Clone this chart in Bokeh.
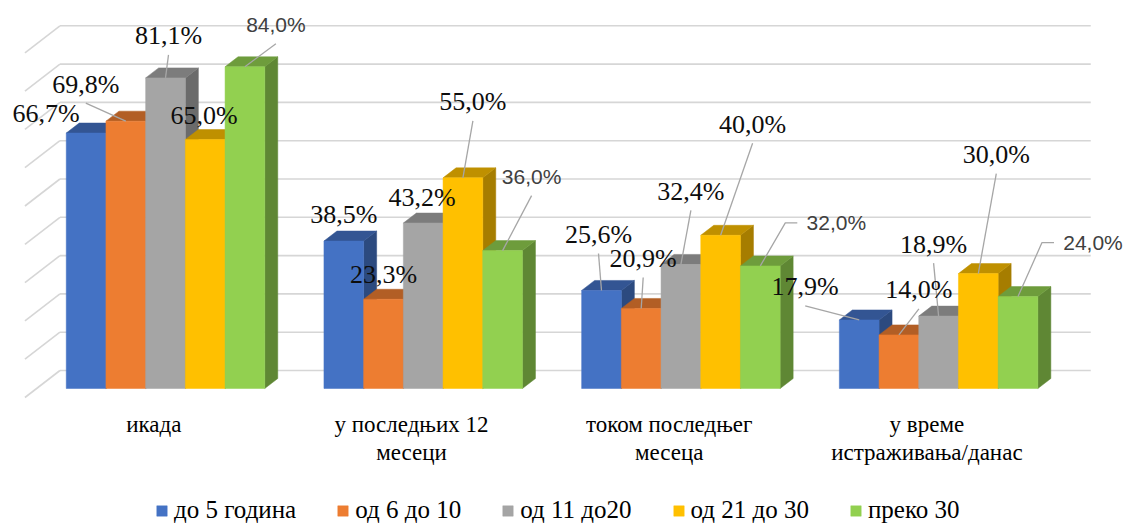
import numpy as np
from bokeh.plotting import figure
from bokeh.models import ColumnDataSource, Range1d, Legend, LegendItem
from bokeh.embed import file_html
from bokeh.resources import INLINE

# ---------------- data ----------------
categories = ["икада", "у последњих 12\nмесеци", "током последњег\nмесеца",
              "у време\nистраживања/данас"]
series_names = ["до 5 година", "од 6 до 10", "од 11 до20", "од 21 до 30", "преко 30"]
do_5 = [66.7, 38.5, 25.6, 17.9]
od_6_10 = [69.8, 23.3, 20.9, 14.0]
od_11_20 = [81.1, 43.2, 32.4, 18.9]
od_21_30 = [65.0, 55.0, 40.0, 30.0]
preko_30 = [84.0, 36.0, 32.0, 24.0]
series_values = [do_5, od_6_10, od_11_20, od_21_30, preko_30]
grid_ticks = [0, 10, 20, 30, 40, 50, 60, 70, 80, 90]

# ---------------- styles ----------------
SERIF = "Liberation Serif"
SANS = "Liberation Sans"
front_colors = ["#4472C4", "#ED7D31", "#A5A5A5", "#FFC000", "#92D050"]
top_colors = ["#335593", "#B25E25", "#7C7C7C", "#BF9000", "#6E9C3C"]
side_colors = ["#2C4A7F", "#9A5120", "#6B6B6B", "#A67D00", "#5F8734"]

# manual label placement (pixel offsets of label centre from bar top centre, y down)
label_offsets = [
    [(-40, -20), (-40, -37), (3, -42), (-1, -24), (31, -42)],
    [(0, -27), (0, -25), (-1, -26), (10, -76), (29, -74)],
    [(-3, -56), (2, -50), (10, -73), (32, -111), (76, -43)],
    [(-54, -33), (20, -45), (-5, -72), (18, -119), (75, -54)],
]
# leader style: 0 none, 1 from label bottom, 2 from label left with elbow
leader_kind = [
    [0, 1, 1, 0, 1],
    [0, 0, 0, 1, 1],
    [1, 1, 1, 1, 2],
    [1, 1, 1, 1, 2],
]

# geometry (pixel scale of the frame)
W, H = 1126, 525
SX = 257.7   # px per category
SY = 3.83    # px per percent
X0 = 165.0   # px of first category centre
Y0 = 388.0   # px of 0 %
BAR_W = 39.7 / SX
BAR_DX, BAR_DY = 13 / SX, 10 / SY
WALL_DX, WALL_DY = 23.3 / SX, 18 / SY
FLOOR_DX, FLOOR_DY = -11.7 / SX, -9 / SY

p = figure(width=W, height=H, output_backend="svg", toolbar_location=None,
           x_range=Range1d(-X0 / SX, (W - X0) / SX),
           y_range=Range1d((Y0 - H) / SY, Y0 / SY),
           x_axis_location=None, y_axis_location=None, min_border=0)
p.outline_line_color = None
p.grid.visible = False
p.background_fill_color = "white"

ncat = len(categories)
# back wall gridlines and left wall diagonals
gt = np.array(grid_ticks, dtype=float)
p.segment(x0=[-0.5 + WALL_DX] * len(gt), y0=gt + WALL_DY,
          x1=[ncat - 0.5 + WALL_DX] * len(gt), y1=gt + WALL_DY,
          line_color="#D6D6D6", line_width=1.6)
p.segment(x0=[-0.5 + WALL_DX] * len(gt), y0=gt + WALL_DY,
          x1=[-0.5 + FLOOR_DX] * len(gt), y1=gt + FLOOR_DY,
          line_color="#D6D6D6", line_width=1.6)

front_renderers = []
for j, vals in enumerate(series_values):
    vals = np.array(vals, dtype=float)
    centers = np.arange(ncat) + (j - 2) * BAR_W
    lefts = centers - BAR_W / 2
    rights = centers + BAR_W / 2
    side_xs = [[r, r, r + BAR_DX, r + BAR_DX] for r in rights]
    side_ys = [[0, v, v + BAR_DY, BAR_DY] for v in vals]
    p.patches(side_xs, side_ys, fill_color=side_colors[j], line_color=side_colors[j], line_width=0.5)
    top_xs = [[l, r, r + BAR_DX, l + BAR_DX] for l, r in zip(lefts, rights)]
    top_ys = [[v, v, v + BAR_DY, v + BAR_DY] for v in vals]
    p.patches(top_xs, top_ys, fill_color=top_colors[j], line_color=top_colors[j], line_width=0.5)
    src = ColumnDataSource(dict(left=lefts, right=rights, top=vals, bottom=np.zeros(ncat)))
    r = p.quad(left="left", right="right", top="top", bottom="bottom", source=src,
               fill_color=front_colors[j], line_color=front_colors[j], line_width=0.5)
    front_renderers.append(r)

# data labels + leader lines
serif_lab = dict(x=[], y=[], t=[], f=[])
sans_lab = dict(x=[], y=[], t=[], f=[])
lead_xs, lead_ys = [], []
for j, vals in enumerate(series_values):
    for i, v in enumerate(vals):
        cx = i + (j - 2) * BAR_W
        dx, dy = label_offsets[i][j]
        lx = cx + dx / SX
        ly = v - dy / SY
        txt = f"{v:.1f}%".replace(".", ",")
        if j == 4:
            tgt = sans_lab; tgt["f"].append(SANS)
        else:
            tgt = serif_lab; tgt["f"].append(SERIF)
        tgt["x"].append(lx); tgt["y"].append(ly); tgt["t"].append(txt)
        k = leader_kind[i][j]
        if k == 1:
            lead_xs.append([lx, cx]); lead_ys.append([ly - 19 / SY, v])
        elif k == 2:
            lead_xs.append([lx - 39 / SX, lx - 51 / SX, cx]); lead_ys.append([ly, ly, v])

p.multi_line(lead_xs, lead_ys, line_color="#A6A6A6", line_width=1.3)
p.text(x="x", y="y", text="t", text_font="f", source=ColumnDataSource(serif_lab),
       text_font_size="26px", text_color="#0D0D0D",
       text_align="center", text_baseline="middle")
p.text(x="x", y="y", text="t", text_font="f", source=ColumnDataSource(sans_lab),
       text_font_size="21px", text_color="#404040",
       text_align="center", text_baseline="middle")

# category labels
cat_src = ColumnDataSource(dict(x=np.arange(ncat) + FLOOR_DX,
                                y=[(Y0 - 411) / SY] * ncat, t=categories,
                                f=[SERIF] * ncat))
p.text(x="x", y="y", text="t", text_font="f", source=cat_src,
       text_font_size="23px", text_color="#000000",
       text_align="center", text_baseline="top", text_line_height=1.15)

legend = Legend(items=[LegendItem(label=n, renderers=[r]) for n, r in zip(series_names, front_renderers)],
                orientation="horizontal", location=(155, 1),
                glyph_width=13, glyph_height=13, label_standoff=6, spacing=40,
                padding=0, margin=0, border_line_color=None, background_fill_alpha=0,
                label_text_font=SERIF, label_text_font_size="25px",
                label_text_color="#000000")
p.add_layout(legend)

open("out.html", "w").write(file_html(p, INLINE))
